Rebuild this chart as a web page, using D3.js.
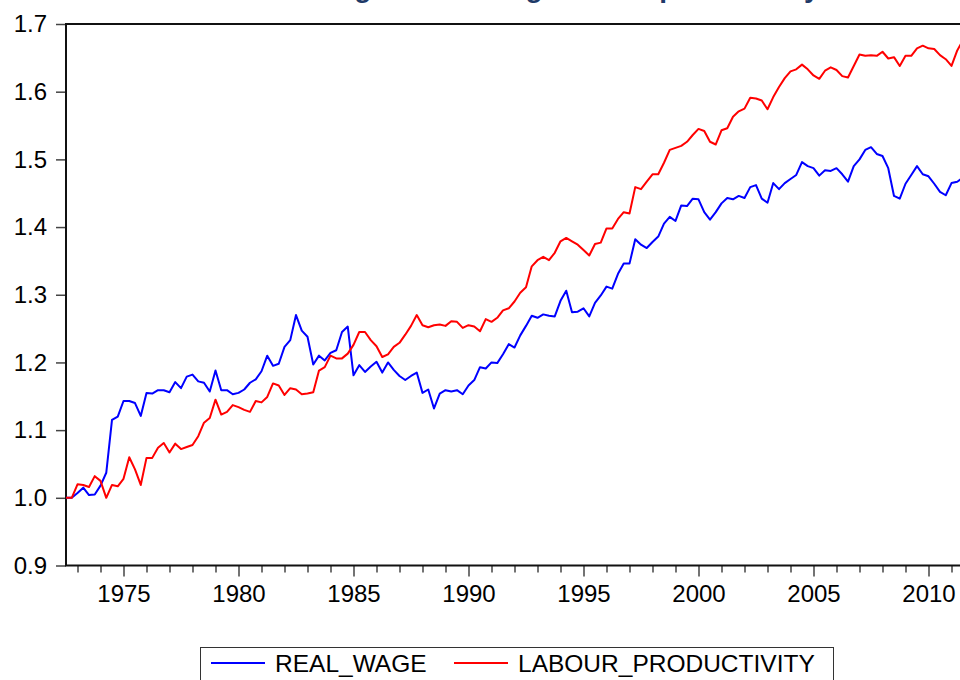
<!DOCTYPE html>
<html>
<head>
<meta charset="utf-8">
<script src="https://cdn.jsdelivr.net/npm/d3@7"></script>
<style>
  body { margin: 0; background: #fff; }
  svg { display: block; font-family: "Liberation Sans", Arial, sans-serif; }
</style>
</head>
<body>
<div id="chart"></div>
<script>
// page size
const width = 960
const height = 680

// quarterly series, first observation 1972Q3
const startYear = 1972
const startQuarter = 3

const realWage = [
  1.000, 1.000, 1.007, 1.015, 1.004, 1.005, 1.018, 1.037, 1.115, 1.120,
  1.143, 1.143, 1.140, 1.121, 1.155, 1.154, 1.159, 1.159, 1.156, 1.171,
  1.162, 1.179, 1.182, 1.172, 1.170, 1.157, 1.188, 1.159, 1.159, 1.153,
  1.155, 1.160, 1.170, 1.175, 1.187, 1.210, 1.195, 1.198, 1.223, 1.233,
  1.270, 1.247, 1.238, 1.197, 1.210, 1.203, 1.214, 1.218, 1.245, 1.253,
  1.181, 1.196, 1.186, 1.194, 1.201, 1.185, 1.200, 1.189, 1.180, 1.174,
  1.180, 1.185, 1.155, 1.160, 1.132, 1.154, 1.159, 1.157, 1.159, 1.153,
  1.166, 1.174, 1.193, 1.191, 1.200, 1.199, 1.212, 1.227, 1.222, 1.240,
  1.254, 1.269, 1.266, 1.271, 1.269, 1.268, 1.291, 1.306, 1.274, 1.275,
  1.280, 1.268, 1.288, 1.299, 1.312, 1.309, 1.331, 1.346, 1.346, 1.382,
  1.374, 1.369, 1.378, 1.386, 1.405, 1.415, 1.409, 1.432, 1.431, 1.442,
  1.441, 1.422, 1.411, 1.422, 1.435, 1.443, 1.441, 1.446, 1.443, 1.459,
  1.462, 1.442, 1.436, 1.465, 1.456, 1.465, 1.471, 1.477, 1.496, 1.490,
  1.487, 1.476, 1.484, 1.483, 1.487, 1.478, 1.467, 1.490, 1.500, 1.514,
  1.518, 1.508, 1.505, 1.487, 1.446, 1.442, 1.464, 1.477, 1.490, 1.478,
  1.475, 1.464, 1.452, 1.447, 1.465, 1.467, 1.473
]

const labourProductivity = [
  1.000, 1.000, 1.020, 1.019, 1.016, 1.032, 1.025, 1.000, 1.019, 1.017,
  1.028, 1.060, 1.042, 1.019, 1.059, 1.059, 1.074, 1.081, 1.067, 1.080,
  1.072, 1.075, 1.078, 1.091, 1.111, 1.118, 1.145, 1.123, 1.127, 1.137,
  1.134, 1.130, 1.127, 1.143, 1.141, 1.149, 1.169, 1.166, 1.152, 1.162,
  1.160, 1.153, 1.154, 1.156, 1.188, 1.193, 1.210, 1.206, 1.206, 1.213,
  1.226, 1.245, 1.245, 1.233, 1.224, 1.208, 1.212, 1.223, 1.229, 1.241,
  1.254, 1.270, 1.255, 1.252, 1.255, 1.256, 1.254, 1.261, 1.260, 1.251,
  1.255, 1.253, 1.246, 1.264, 1.260, 1.266, 1.277, 1.280, 1.290, 1.303,
  1.311, 1.342, 1.351, 1.356, 1.351, 1.362, 1.379, 1.384, 1.379, 1.374,
  1.366, 1.358, 1.375, 1.377, 1.398, 1.398, 1.412, 1.422, 1.420, 1.459,
  1.456, 1.467, 1.478, 1.478, 1.495, 1.514, 1.517, 1.520, 1.526, 1.536,
  1.545, 1.542, 1.526, 1.522, 1.543, 1.546, 1.563, 1.571, 1.575, 1.591,
  1.590, 1.587, 1.574, 1.592, 1.607, 1.620, 1.630, 1.633, 1.640, 1.633,
  1.624, 1.619, 1.631, 1.636, 1.632, 1.623, 1.621, 1.638, 1.655, 1.653,
  1.654, 1.653, 1.659, 1.649, 1.651, 1.638, 1.653, 1.653, 1.664, 1.668,
  1.664, 1.663, 1.654, 1.648, 1.638, 1.661, 1.676
]

const yTicks = [0.9, 1.0, 1.1, 1.2, 1.3, 1.4, 1.5, 1.6, 1.7]
const yearLabels = [1975, 1980, 1985, 1990, 1995, 2000, 2005, 2010]

const series = [
  {name: "REAL_WAGE", values: realWage, color: "#0000ff"},
  {name: "LABOUR_PRODUCTIVITY", values: labourProductivity, color: "#ff0000"}
]

// time of each observation (fraction of year)
const t0 = startYear + (startQuarter - 1) / 4
const times = realWage.map((d, i) => t0 + i / 4)
const tEnd = times[times.length - 1]

// plot box, right edge sits just past the page
const plotLeft = 66, plotTop = 24, plotBottom = 565.5
const plotRight = plotLeft + 23 * (tEnd - t0)

var x = d3.scaleLinear().domain([t0, tEnd]).range([plotLeft, plotRight])
var y = d3.scaleLinear().domain([0.9, 1.7]).range([plotBottom, plotTop])

var svg = d3.select("#chart").append("svg")
  .attr("width", width)
  .attr("height", height)

// title, mostly above the visible area (only descenders show)
svg.append("text")
  .attr("x", 250)
  .attr("y", -3)
  .attr("fill", "#1f3a68")
  .style("font-size", "28px")
  .style("font-weight", "bold")
  .text("Real wage and average labour productivity")

// y axis
var yAxis = d3.axisLeft(y)
  .tickValues(yTicks)
  .tickFormat(d3.format(".1f"))
  .tickSize(10)
  .tickPadding(9)

var gy = svg.append("g")
  .attr("transform", "translate(" + plotLeft + ",0)")
  .call(yAxis)
gy.select(".domain").remove()
gy.selectAll(".tick text").style("font-size", "24px").attr("fill", "#000")

// x axis: minor ticks every year, labels every five years
var years = d3.range(Math.ceil(t0), Math.floor(tEnd) + 1)
var xMinor = d3.axisBottom(x)
  .tickValues(years.filter(d => yearLabels.indexOf(d) < 0))
  .tickFormat("")
  .tickSize(7)
var xMajor = d3.axisBottom(x)
  .tickValues(yearLabels)
  .tickFormat(d3.format("d"))
  .tickSize(11)
  .tickPadding(8)

var gx1 = svg.append("g").attr("transform", "translate(0," + plotBottom + ")").call(xMinor)
var gx2 = svg.append("g").attr("transform", "translate(0," + plotBottom + ")").call(xMajor)
gx1.select(".domain").remove()
gx2.select(".domain").remove()
svg.selectAll(".tick line").attr("stroke", "#444").attr("stroke-width", 1.5)
gx2.selectAll(".tick text").style("font-size", "24px").attr("fill", "#000")

// frame
svg.append("rect")
  .attr("x", plotLeft)
  .attr("y", plotTop)
  .attr("width", plotRight - plotLeft)
  .attr("height", plotBottom - plotTop)
  .attr("fill", "none")
  .attr("stroke", "#111")
  .attr("stroke-width", 2)

// lines
var line = d3.line()
  .x((d, i) => x(times[i]))
  .y(d => y(d))

svg.append("g").selectAll("path")
  .data(series)
  .enter()
  .append("path")
  .attr("d", d => line(d.values))
  .attr("fill", "none")
  .attr("stroke", d => d.color)
  .attr("stroke-width", 2)
  .attr("stroke-linejoin", "round")

// legend
var legend = svg.append("g")
legend.append("rect")
  .attr("x", 200.5)
  .attr("y", 647.5)
  .attr("width", 633)
  .attr("height", 50)
  .attr("fill", "#fff")
  .attr("stroke", "#333")
  .attr("stroke-width", 1)

var legendX = [211, 454]
series.forEach(function(s, i) {
  legend.append("line")
    .attr("x1", legendX[i])
    .attr("x2", legendX[i] + 54)
    .attr("y1", 663)
    .attr("y2", 663)
    .attr("stroke", s.color)
    .attr("stroke-width", 2)
  legend.append("text")
    .attr("x", legendX[i] + 64)
    .attr("y", 672)
    .style("font-size", "24.5px")
    .text(s.name)
})
</script>
</body>
</html>
